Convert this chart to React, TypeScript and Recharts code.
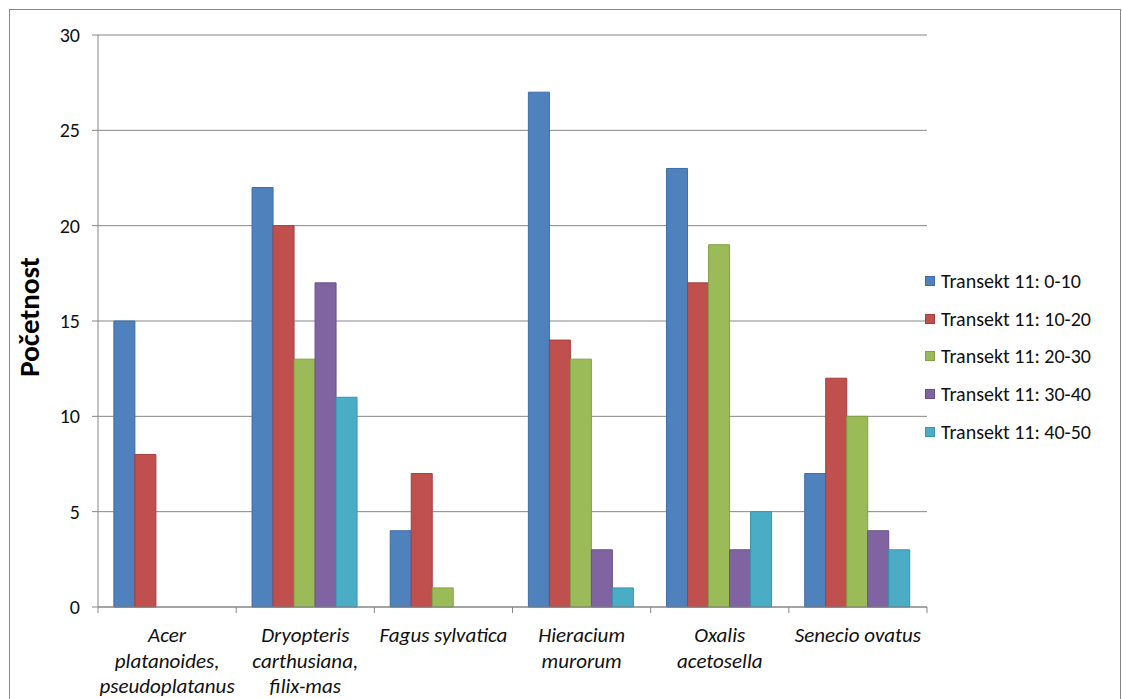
import { Bar, BarChart, CartesianGrid, Label, Legend, XAxis, YAxis } from "recharts";

const species = [
  ["Acer", "platanoides,", "pseudoplatanus"],
  ["Dryopteris", "carthusiana,", "filix-mas"],
  ["Fagus sylvatica"],
  ["Hieracium", "murorum"],
  ["Oxalis", "acetosella"],
  ["Senecio ovatus"],
];

const seriesNames = [
  "Transekt 11: 0-10",
  "Transekt 11: 10-20",
  "Transekt 11: 20-30",
  "Transekt 11: 30-40",
  "Transekt 11: 40-50",
];

const t0_10 = [15, 22, 4, 27, 23, 7];
const t10_20 = [8, 20, 7, 14, 17, 12];
const t20_30 = [0, 13, 1, 13, 19, 10];
const t30_40 = [0, 17, 0, 3, 3, 4];
const t40_50 = [0, 11, 0, 1, 5, 3];

const yTicks = [0, 5, 10, 15, 20, 25, 30];

const fills = ["#4f81bd", "#c0504d", "#9bbb59", "#8064a2", "#4bacc6"];
const strokes = ["#3d6ca6", "#a53e3b", "#82a046", "#69508a", "#3894ac"];

const seriesValues = [t0_10, t10_20, t20_30, t30_40, t40_50];

const chartData = species.map((lines, i) => {
  const row: Record<string, string | number> = { name: lines.join(" ") };
  seriesNames.forEach((s, k) => {
    row[s] = seriesValues[k][i];
  });
  return row;
});

const FONT = "Carlito, Lato, 'Liberation Sans', sans-serif";
const PLOT_W = 917 - 88;

function SpeciesTick(props: any) {
  const { x, y, payload, index } = props;
  const half = payload && payload.offset ? payload.offset : PLOT_W / species.length / 2;
  const lines = species[index] || [String(payload.value)];
  return (
    <g>
      <line x1={x - half} x2={x - half} y1={y} y2={y + 6} stroke="#868686" />
      {index === species.length - 1 && (
        <line x1={x + half} x2={x + half} y1={y} y2={y + 6} stroke="#868686" />
      )}
      <text
        x={x}
        y={y + 35}
        textAnchor="middle"
        fontStyle="italic"
        fontSize={21}
        fontFamily={FONT}
        fill="#111"
      >
        {lines.map((l, i) => (
          <tspan key={i} x={x} dy={i === 0 ? 0 : 25.5}>
            {l}
          </tspan>
        ))}
      </text>
    </g>
  );
}

function LegendBox() {
  return (
    <div style={{ fontFamily: FONT, fontSize: 20, color: "#111" }}>
      {seriesNames.map((s, i) => (
        <div key={s} style={{ display: "flex", alignItems: "center", height: 37.7 }}>
          <span
            style={{
              display: "inline-block",
              width: 8,
              height: 8,
              background: fills[i],
              border: `1px solid ${strokes[i]}`,
              marginRight: 6,
            }}
          />
          <span>{s}</span>
        </div>
      ))}
    </div>
  );
}

export default function App() {
  return (
    <div
      style={{
        position: "fixed",
        left: 9,
        top: 9,
        width: 1110,
        height: 700,
        borderTop: "1px solid #878787",
        borderLeft: "1px solid #878787",
        borderRight: "1px solid #878787",
        background: "#fff",
      }}
    >
      <BarChart
        width={1110}
        height={689}
        data={chartData}
        margin={{ top: 25, right: 193, bottom: 0, left: 0 }}
        barCategoryGap="11.5%"
        barGap={0}
      >
        <CartesianGrid vertical={false} stroke="#868686" />
        <XAxis
          dataKey="name"
          height={92}
          interval={0}
          tickSize={0}
          tickMargin={0}
          tickLine={false}
          axisLine={{ stroke: "#868686" }}
          tick={<SpeciesTick />}
        />
        <YAxis
          width={88}
          domain={[0, 30]}
          ticks={yTicks}
          interval={0}
          tickSize={6}
          tickMargin={12}
          axisLine={{ stroke: "#868686" }}
          tickLine={{ stroke: "#868686" }}
          tick={{ fontSize: 20, fontFamily: FONT, fill: "#111" }}
        >
          <Label
            content={(p: any) => {
              const vb = p.viewBox || { x: 0, y: 25, height: 572 };
              const cx = vb.x + 19;
              const cy = vb.y + vb.height / 2 - 4;
              return (
                <text
                  x={cx}
                  y={cy}
                  transform={`rotate(-90, ${cx}, ${cy})`}
                  textAnchor="middle"
                  dominantBaseline="central"
                  fontSize={29}
                  fontWeight="bold"
                  fontFamily={FONT}
                  fill="#000"
                >
                  Početnost
                </text>
              );
            }}
          />
        </YAxis>
        <Legend
          layout="horizontal"
          verticalAlign="middle"
          align="center"
          wrapperStyle={{ left: 915, top: 252, width: 195 }}
          content={<LegendBox />}
        />
        {seriesNames.map((s, i) => (
          <Bar
            key={s}
            dataKey={s}
            fill={fills[i]}
            stroke={strokes[i]}
            strokeWidth={1}
            isAnimationActive={false}
          />
        ))}
      </BarChart>
    </div>
  );
}
